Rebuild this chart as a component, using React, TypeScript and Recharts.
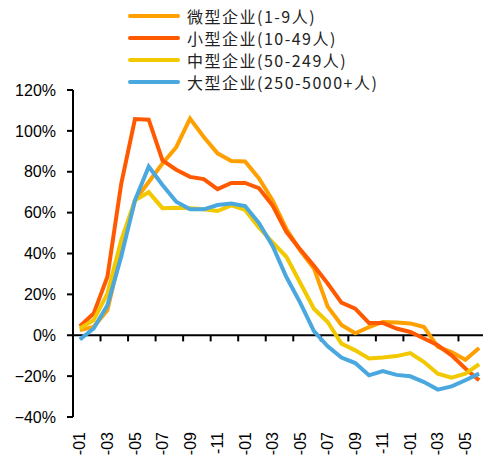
import React from 'react';
import { LineChart, Line, XAxis, YAxis, ReferenceLine, Legend } from 'recharts';

// Months on the category axis (year part is cut off in the source picture)
const months = [
  '-01', '-02', '-03', '-04', '-05', '-06', '-07', '-08', '-09', '-10', '-11', '-12',
  '-01', '-02', '-03', '-04', '-05', '-06', '-07', '-08', '-09', '-10', '-11', '-12',
  '-01', '-02', '-03', '-04', '-05', '-06',
];

// Series values, in %
const micro = [2.5, 4.1, 12.3, 41, 66, 75, 84, 92, 106, 97, 89, 85.3, 85, 76.8, 66, 52, 41.5, 32.7, 14, 5, 1, 4, 6.5, 6.2, 5.8, 4, -5.7, -8.2, -12, -6.2];
const small = [4.4, 10.6, 28.6, 74, 105.8, 105.5, 85.5, 81, 77.5, 76.4, 71.5, 74.5, 74.5, 72, 63.5, 50.6, 42, 34, 25.3, 16, 13, 6, 6, 3.3, 1.6, -1.6, -4.9, -9.8, -16.3, -22];
const medium = [3.3, 7.4, 20.4, 46.5, 66, 70, 62.2, 62.4, 62.1, 61.7, 60.8, 63.5, 61.3, 52.7, 45.5, 38.4, 25.7, 13, 6.5, -4.1, -7.4, -11.4, -10.9, -10.2, -8.7, -13.1, -18.8, -20.7, -18.8, -14.2];
const large = [-2.1, 3.3, 14.7, 38.4, 66, 82.5, 73.5, 65.3, 61.6, 61.6, 63.7, 64.5, 63.2, 55, 43.7, 28.5, 16, 2, -5.4, -10.9, -13.6, -19.6, -17.5, -19.4, -20.1, -22.9, -26.6, -25, -22, -18.8];

const seriesNames = ['微型企业(1-9人)', '小型企业(10-49人)', '中型企业(50-249人)', '大型企业(250-5000+人)'];

const yTicks = [-40, -20, 0, 20, 40, 60, 80, 100, 120];
const xLabelTicks = [0, 2, 4, 6, 8, 10, 12, 14, 16, 18, 20, 22, 24, 26, 28];
// tick marks on the zero line sit on category boundaries, every 2 months
const zeroTickMarks = [1.5, 3.5, 5.5, 7.5, 9.5, 11.5, 13.5, 15.5, 17.5, 19.5, 21.5, 23.5, 25.5, 27.5];

const data = months.map((m, i) => ({
  idx: i,
  month: m,
  micro: micro[i],
  small: small[i],
  medium: medium[i],
  large: large[i],
}));

const MonthTick = (props: any) => {
  const { x, y, payload } = props;
  return (
    <text
      x={x}
      y={y}
      dy="0.35em"
      textAnchor="end"
      transform={`rotate(-90, ${x}, ${y})`}
      fontSize={16}
      fontFamily='"Liberation Sans", Arial, sans-serif'
      fill="#000"
    >
      {months[payload.value]}
    </text>
  );
};

const renderLegend = (props: any) => {
  // keep the series order, not the alphabetical one
  const payload = [...(props.payload || [])].sort(
    (a: any, b: any) => seriesNames.indexOf(a.value) - seriesNames.indexOf(b.value)
  );
  return (
    <div style={{ fontFamily: '"Noto Sans CJK SC", sans-serif', fontSize: 16, letterSpacing: 1.5, color: '#222' }}>
      {payload.map((entry: any) => (
        <div key={entry.value} style={{ display: 'flex', alignItems: 'center', height: 22 }}>
          <span style={{ display: 'inline-block', width: 52, height: 4, background: entry.color, borderRadius: 2, marginRight: 7 }} />
          <span style={{ lineHeight: '22px' }}>{entry.value}</span>
        </div>
      ))}
    </div>
  );
};

const App = () => {
  return (
    <div style={{ position: 'absolute', left: 0, top: 0, width: 483, height: 457, overflow: 'hidden', background: '#fff' }}>
      <LineChart width={486} height={457} data={data} margin={{ top: 90, right: 0, left: 0, bottom: 0 }}>
        <XAxis
          type="number"
          dataKey="idx"
          domain={[-0.5, 29.5]}
          ticks={xLabelTicks}
          interval={0}
          axisLine={false}
          tickLine={false}
          tickSize={6}
          tickMargin={9}
          height={40}
          tick={<MonthTick />}
        />
        <YAxis
          width={73}
          domain={[-40, 120]}
          ticks={yTicks}
          interval={0}
          axisLine={{ stroke: '#000', strokeWidth: 2 }}
          tickLine={{ stroke: '#000', strokeWidth: 2 }}
          tickSize={6}
          tickMargin={11}
          tickFormatter={(v: number) => (v < 0 ? `\u2212${Math.abs(v)}%` : `${v}%`)}
          tick={{ fontSize: 16, fill: '#000', fontFamily: '"Liberation Sans", Arial, sans-serif' }}
        />
        <ReferenceLine y={0} stroke="#000" strokeWidth={2} />
        {zeroTickMarks.map((b) => (
          <ReferenceLine
            key={b}
            segment={[{ x: b, y: 0 }, { x: b, y: -3 }]}
            stroke="#000"
            strokeWidth={2}
          />
        ))}
        <Legend
          layout="vertical"
          verticalAlign="middle"
          align="center"
          content={renderLegend}
          wrapperStyle={{ top: 5, left: 128, width: 'auto' }}
        />
        <Line dataKey="micro" name={seriesNames[0]} stroke="#FFA000" strokeWidth={4} dot={false} isAnimationActive={false} />
        <Line dataKey="small" name={seriesNames[1]} stroke="#FF5A00" strokeWidth={4} dot={false} isAnimationActive={false} />
        <Line dataKey="medium" name={seriesNames[2]} stroke="#F2C800" strokeWidth={4} dot={false} isAnimationActive={false} />
        <Line dataKey="large" name={seriesNames[3]} stroke="#4AA8DE" strokeWidth={4} dot={false} isAnimationActive={false} />
      </LineChart>
    </div>
  );
};

export default App;
